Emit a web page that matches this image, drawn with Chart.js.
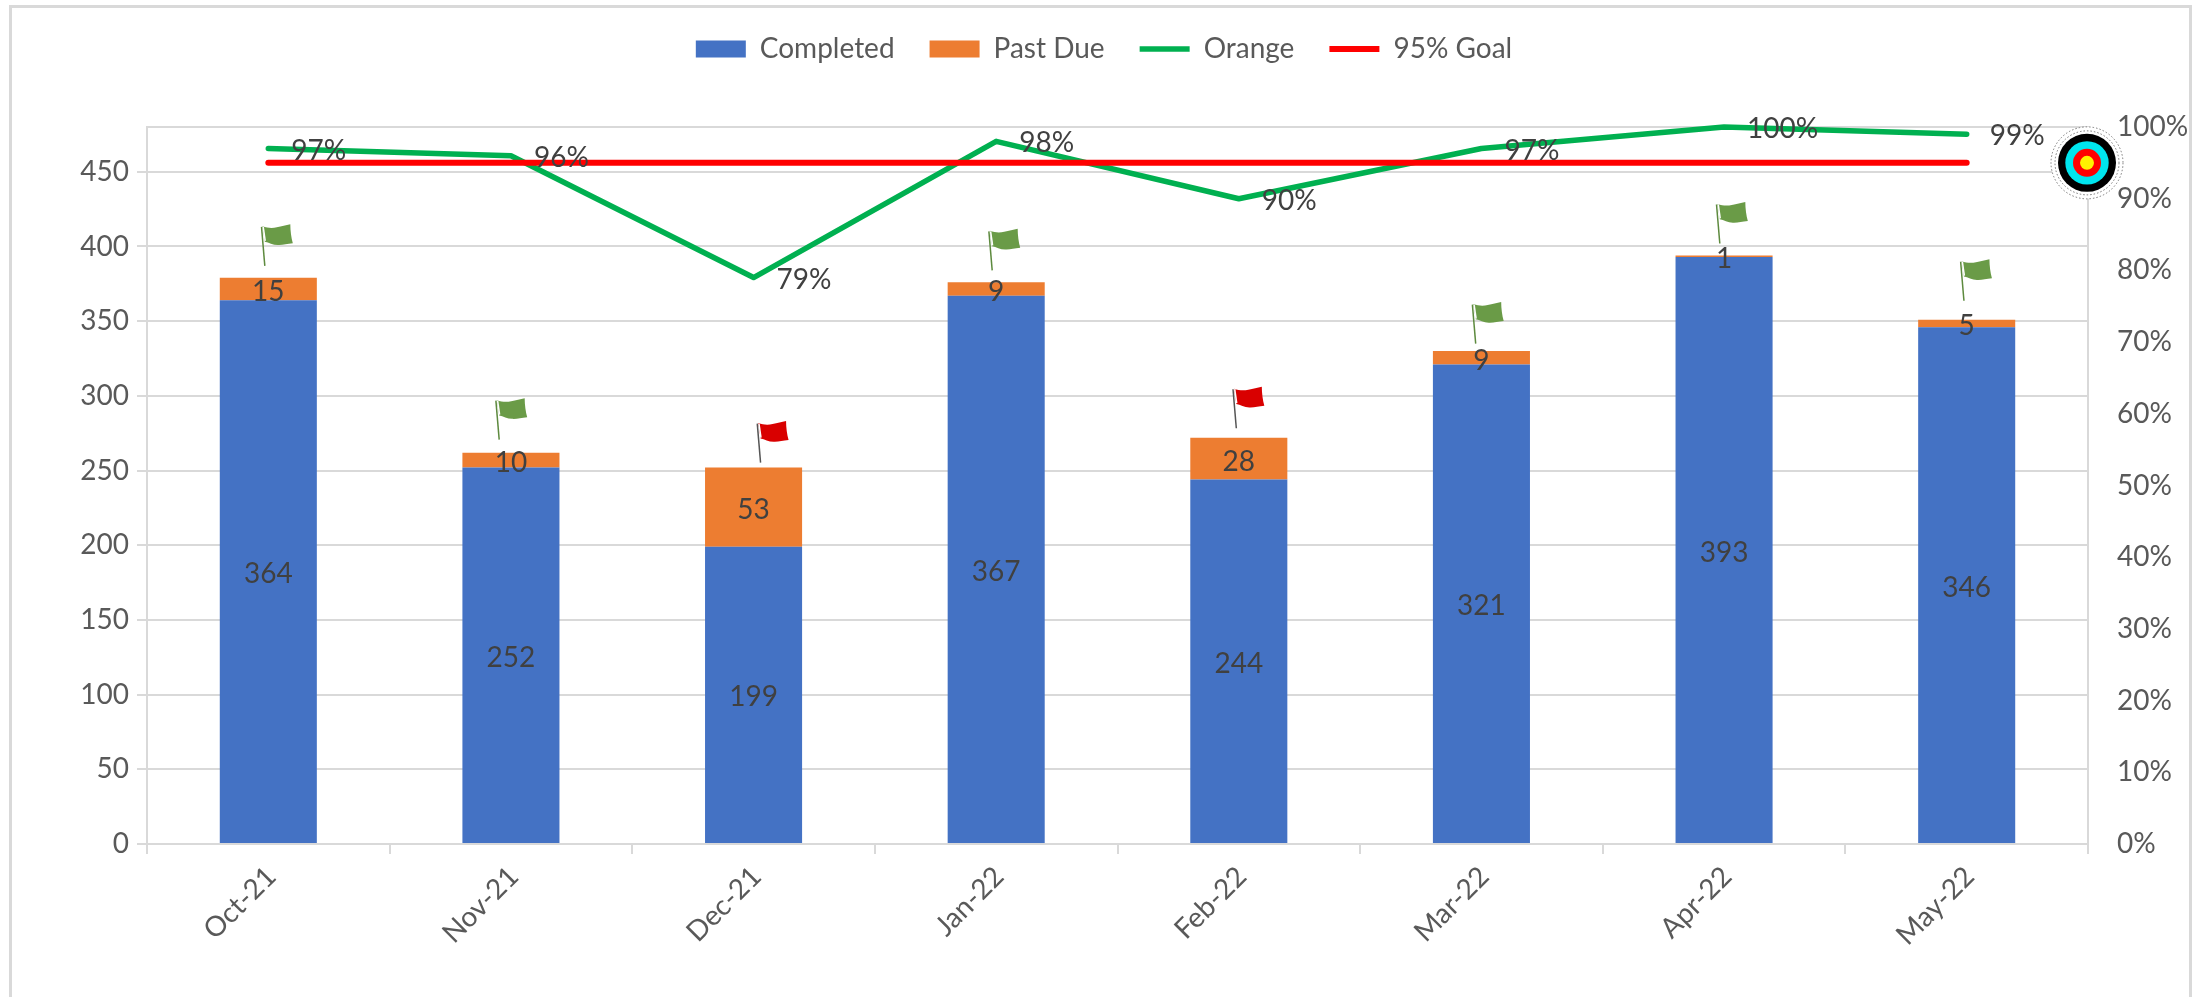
<!DOCTYPE html>
<html><head><meta charset="utf-8">
<style>
html,body{margin:0;padding:0;background:#fff;overflow:hidden}
#frame{position:absolute;left:9px;top:5px;width:2183px;height:1000px;border:3px solid #d9d9d9;box-sizing:border-box}
#wrap{position:absolute;left:0;top:0;width:2208px;height:997px}
</style>
<script src="https://cdn.jsdelivr.net/npm/chart.js@4"></script>
</head><body>
<div id="frame"></div>
<div id="wrap"><canvas id="c" width="2208" height="997"></canvas></div>
<script>
const categories = ['Oct-21','Nov-21','Dec-21','Jan-22','Feb-22','Mar-22','Apr-22','May-22'];
const completed = [364,252,199,367,244,321,393,346];
const pastDue = [15,10,53,9,28,9,1,5];
const orange = [0.97,0.96,0.79,0.98,0.90,0.97,1.00,0.99];
const goal = [0.95,0.95,0.95,0.95,0.95,0.95,0.95,0.95];
const flagLift = [12,13,5,12,9.5,7.5,12,19];
const flagShift = [-3.5,-11.75,7,-4,-2.5,-5.75,-4.25,-2.75];
const FONT = 'Lato, Carlito, Calibri, sans-serif';
const LABEL = '#404040', TICK = '#595959', GRID = '#d9d9d9';

function drawFlag(ctx, x, y, color, poleColor){
  ctx.save();
  ctx.fillStyle = color;
  ctx.beginPath();
  ctx.moveTo(x-2.3, y-39.5);
  ctx.bezierCurveTo(x+3, y-37.5, x+8, y-37.5, x+12, y-38.5);
  ctx.bezierCurveTo(x+17, y-39.5, x+21, y-40.5, x+25.5, y-41.5);
  ctx.bezierCurveTo(x+25.5, y-35, x+26.5, y-28, x+28, y-22.5);
  ctx.bezierCurveTo(x+22, y-22, x+18, y-20.5, x+13, y-20.8);
  ctx.bezierCurveTo(x+8, y-21, x+4, y-23.5, x, y-24.2);
  ctx.closePath(); ctx.fill();
  ctx.strokeStyle = '#ffffff'; ctx.lineWidth = 1.5;
  ctx.beginPath(); ctx.moveTo(x-1.6, y-39); ctx.lineTo(x+0.4, y-25); ctx.stroke();
  ctx.strokeStyle = poleColor; ctx.lineWidth = 1.5;
  ctx.beginPath(); ctx.moveTo(x, y); ctx.lineTo(x-3.3, y-39); ctx.stroke();
  ctx.restore();
}
const overlay = {
  id:'overlay',
  beforeInit(chart){
    const fit = chart.legend.fit;
    chart.legend.fit = function(){ fit.call(this); this.height = 127; };
  },
  afterDatasetsDraw(chart){
    const {ctx, scales:{x,y,y1}, chartArea} = chart;
    ctx.save();
    ctx.font = '28px '+FONT; ctx.fillStyle = LABEL;
    ctx.textBaseline='middle'; ctx.textAlign='center';
    categories.forEach((c,i)=>{
      const px = x.getPixelForValue(i);
      ctx.fillText(String(completed[i]), px, y.getPixelForValue(completed[i]/2)+2);
      ctx.fillText(String(pastDue[i]), px, y.getPixelForValue(completed[i]+pastDue[i]/2)+3);
    });
    ctx.textAlign='left';
    categories.forEach((c,i)=>{
      const px = x.getPixelForValue(i);
      ctx.fillText(Math.round(orange[i]*100)+'%', px+23, y1.getPixelForValue(orange[i])+2);
    });
    categories.forEach((c,i)=>{
      const px = x.getPixelForValue(i)+flagShift[i];
      const top = y.getPixelForValue(completed[i]+pastDue[i]);
      const ok = orange[i] >= goal[i];
      drawFlag(ctx, px, top-flagLift[i], ok?'#6A9B47':'#D90000', ok?'#5d8a3e':'#555555');
    });
    const cx = chartArea.right-1, cy = y1.getPixelForValue(goal[7]);
    [[36,'#ffffff'],[29,'#000000'],[21.7,'#00E5EE'],[14,'#FF0000'],[7,'#FFF200']].forEach(([r,col])=>{
      ctx.beginPath(); ctx.arc(cx,cy,r,0,Math.PI*2); ctx.fillStyle=col; ctx.fill();
    });
    ctx.setLineDash([1.5,2]); ctx.lineWidth=1; ctx.strokeStyle='#777777';
    [36,32].forEach(r=>{ctx.beginPath(); ctx.arc(cx,cy,r,0,Math.PI*2); ctx.stroke();});
    ctx.restore();
  }
};
new Chart(document.getElementById('c'),{
  data:{labels:categories,datasets:[
    {type:'bar',label:'Completed',data:completed,backgroundColor:'#4472C4',pointStyle:'rect',borderWidth:0,stack:'s',yAxisID:'y',order:2},
    {type:'bar',label:'Past Due',data:pastDue,backgroundColor:'#ED7D31',pointStyle:'rect',borderWidth:0,stack:'s',yAxisID:'y',order:2},
    {type:'line',label:'Orange',data:orange,borderColor:'#00B050',backgroundColor:'#00B050',borderWidth:5.5,pointRadius:0,pointStyle:'line',borderCapStyle:'round',borderJoinStyle:'round',yAxisID:'y1',tension:0,order:1,clip:false},
    {type:'line',label:'95% Goal',data:goal,borderColor:'#FF0000',backgroundColor:'#FF0000',borderWidth:6,pointRadius:0,pointStyle:'line',borderCapStyle:'round',yAxisID:'y1',tension:0,order:0}
  ]},
  plugins:[overlay],
  options:{
    responsive:false,animation:false,
    datasets:{bar:{barPercentage:0.4,categoryPercentage:1}},
    plugins:{
      tooltip:{enabled:false},
      legend:{display:true,position:'top',
        labels:{usePointStyle:true,pointStyleWidth:50,boxHeight:17,padding:35,color:TICK,
          sort:(a,b)=>a.datasetIndex-b.datasetIndex,
          font:{family:FONT,size:28}}}
    },
    scales:{
      x:{stacked:true,
        grid:{offset:true,drawOnChartArea:false,drawTicks:true,tickLength:10,color:GRID,lineWidth:2},
        border:{color:GRID,width:2},
        ticks:{color:TICK,font:{family:FONT,size:28},minRotation:45,maxRotation:45,padding:6,labelOffset:3},
        afterFit(s){s.height=997-844;}
      },
      y:{stacked:true,position:'left',min:0,max:480,
        grid:{color:GRID,lineWidth:2,tickLength:10},
        border:{color:GRID,width:2},
        ticks:{stepSize:50,color:TICK,font:{family:FONT,size:28},padding:8},
        afterBuildTicks(s){s.ticks=s.ticks.filter(t=>t.value!==480);},
        afterFit(s){s.width=147;}
      },
      y1:{position:'right',min:0,max:1,
        grid:{drawTicks:false,lineWidth:2,color(c){return c.tick&&c.tick.value===1?GRID:'rgba(0,0,0,0)';}},
        border:{color:GRID,width:2},
        ticks:{stepSize:0.1,color:TICK,font:{family:FONT,size:28},padding:29,callback:v=>Math.round(v*100)+'%'},
        afterFit(s){s.width=2208-2088;}
      }
    }
  }
});
</script>
</body></html>
